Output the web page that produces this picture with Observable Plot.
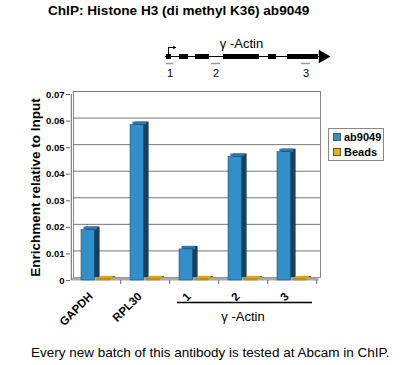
<!DOCTYPE html>
<html><head><meta charset="utf-8">
<script src="https://cdn.jsdelivr.net/npm/d3@7"></script>
<script src="https://cdn.jsdelivr.net/npm/@observablehq/plot@0.6"></script>
<style>
body{margin:0;background:#fff;font-family:"Liberation Sans",Arial,sans-serif;}
#wrap{position:relative;width:400px;height:365px;overflow:hidden;background:#fff;}
#title{position:absolute;left:48px;top:3px;font-size:13.6px;line-height:16px;font-weight:bold;white-space:nowrap;color:#000;}
#gene{position:absolute;left:0;top:26px;}
#chart{position:absolute;left:0;top:84px;}
#legend{position:absolute;left:328px;top:128px;width:54px;height:31px;border:1px solid #888;background:#fff;}
#legend .it{position:absolute;left:4px;font-size:11px;font-weight:bold;line-height:13px;white-space:nowrap;}
#legend .sw{display:inline-block;width:6px;height:6px;border:1px solid #555;margin-right:3px;vertical-align:0px;}
#caption{position:absolute;left:31px;top:345px;font-size:13.5px;line-height:16px;white-space:nowrap;color:#000;}
svg{overflow:visible;}
</style></head><body>
<div id="wrap">
<div id="title">ChIP: Histone H3 (di methyl K36) ab9049</div>
<div id="gene"></div>
<div id="chart"></div>
<div id="legend"></div>
<div id="caption">Every new batch of this antibody is tested at Abcam in ChIP.</div>
</div>
<script>
// ---- data ----
const categories = ["GAPDH", "RPL30", "1", "2", "3"];
const ab9049 = [0.019, 0.0585, 0.0117, 0.0465, 0.0483];
const beads = [0.0004, 0.0004, 0.0004, 0.0004, 0.0004];
const seriesNames = ["ab9049", "Beads"];
const yTicks = [0, 0.01, 0.02, 0.03, 0.04, 0.05, 0.06, 0.07];
const yTickLabels = ["0", "0.01", "0.02", "0.03", "0.04", "0.05", "0.06", "0.07"];
const yLabel = "Enrichment relative to Input";
const groupLabel = "γ -Actin";
const groupMembers = ["1", "2", "3"];
// gene diagram (arbitrary gene coordinates)
const geneSpan = [0, 165];
const tss = 3;
const exons = [[1, 6], [14, 23], [30, 44], [58, 94], [103, 111], [122, 153]];
const primers = [[1, 8], [46, 55], [136, 145]];
const primerLabels = ["1", "2", "3"];

const font = "'Liberation Sans', Arial, sans-serif";

// ---- gene diagram ----
const gene = Plot.plot({
  width: 400, height: 60, margin: 0,
  x: {domain: geneSpan, range: [165, 330], axis: null},
  y: {domain: [-30, 30], range: [60, 0], axis: null},
  style: {fontFamily: font, background: "transparent", overflow: "visible"},
  marks: [
    Plot.ruleY([geneSpan], {x1: d => d[0], x2: d => d[1] - 10, y: 0, stroke: "#000", strokeWidth: 1}),
    Plot.ruleY(exons, {x1: d => d[0], x2: d => d[1], y: 0, stroke: "#000", strokeWidth: 5}),
    Plot.dot([geneSpan], {x: d => d[1], y: 0, symbol: "triangle", r: 5, rotate: 90, fill: "#000", stroke: null, dx: -7.8}),
    Plot.ruleX([tss], {x: d => d, y1: 1, y2: 9, stroke: "#000", strokeWidth: 1}),
    Plot.arrow([tss], {x1: d => d, x2: d => d + 7, y1: 9, y2: 9, stroke: "#000", strokeWidth: 1, headLength: 4}),
    Plot.ruleY(primers, {x1: d => d[0], x2: d => d[1], y: -7, stroke: "#999", strokeWidth: 1.5}),
    Plot.text(primers, {x: d => (d[0] + d[1]) / 2, y: -17, text: (d, i) => primerLabels[i], fontSize: 11, fill: "#000"}),
    Plot.text([groupLabel], {x: d => (exons[3][0] + exons[3][1]) / 2, y: 13, text: d => d, fontSize: 13, fill: "#000"})
  ]
});
document.getElementById("gene").appendChild(gene);

// ---- bar chart ----
const rows = categories.map((c, i) => ({cat: c, ab9049: ab9049[i], Beads: beads[i]}));
const plotLeft = 70, plotRight = 317;
const bw = (plotRight - plotLeft) / categories.length;
const looks = {
  ab9049: {front: "#338fca", top: "#2a78ad", side: "#173f5e", il: 10, ir: bw - 24},
  Beads: {front: "#e6b21e", top: "#d8a514", side: "#8a6a0c", il: 26, ir: bw - 39.5}
};
const barMarks = [];
for (const s of seriesNames) {
  const L = looks[s];
  barMarks.push(
    Plot.barY(rows, {x: "cat", y: s, insetLeft: L.il, insetRight: L.ir, dx: 5, dy: -3, fill: L.side}),
    Plot.barY(rows, {x: "cat", y1: s, y2: s, insetTop: -3, insetLeft: L.il, insetRight: L.ir, dx: 2.5, fill: L.top}),
    Plot.barY(rows, {x: "cat", y: s, insetLeft: L.il, insetRight: L.ir, fill: L.front, stroke: L.side, strokeWidth: 0.5})
  );
}

const chart = Plot.plot({
  width: 400, height: 245,
  marginTop: 10, marginBottom: 49, marginLeft: plotLeft, marginRight: 400 - plotRight,
  x: {domain: categories, padding: 0},
  y: {domain: [0, 0.07]},
  style: {fontFamily: font, background: "transparent", overflow: "visible", color: "#000"},
  marks: [
    Plot.frame({dx: 3, dy: -3, stroke: "#888", fill: "#fff"}),
    Plot.ruleY(yTicks.filter(t => t > 0), {dx: 3, dy: -3, stroke: "#777", strokeWidth: 1}),
    Plot.ruleY([0], {stroke: "#a8a8a8", strokeWidth: 3, dy: -1.5, dx: 1.5}),
    ...barMarks,
    Plot.ruleX([categories[0]], {dx: -bw / 2, stroke: "#666", strokeWidth: 1}),
    Plot.ruleX(categories, {y1: 0, y2: 0, insetBottom: -4, dx: bw / 2, stroke: "#666"}),
    Plot.axisY({ticks: yTicks, tickFormat: (d) => yTickLabels[yTicks.indexOf(d)], tickSize: 4, tickPadding: 2, fontSize: 9.5, fontWeight: "bold", label: null, stroke: "#666"}),
    Plot.axisX({tickRotate: -45, tickSize: 0, tickPadding: 14, fontSize: 11.5, fontWeight: "bold", label: null, dx: -5}),
    Plot.text([yLabel], {frameAnchor: "left", textAnchor: "middle", rotate: -90, dx: -35, fontSize: 13.5, fontWeight: "bold", text: d => d, fill: "#000"}),
    Plot.ruleY([groupLabel], {x1: d => groupMembers[0], x2: d => groupMembers[groupMembers.length - 1], y: 0, dy: 22, insetLeft: 8, insetRight: 4, stroke: "#000", strokeWidth: 1.5}),
    Plot.text([groupLabel], {x: d => groupMembers[1], y: 0, dy: 36, text: d => d, fontSize: 13, fill: "#000"})
  ]
});
document.getElementById("chart").appendChild(chart);

// ---- legend ----
const leg = document.getElementById("legend");
seriesNames.forEach((s, i) => {
  const it = document.createElement("div");
  it.className = "it";
  it.style.top = (2 + i * 15) + "px";
  const sw = document.createElement("span");
  sw.className = "sw";
  sw.style.background = looks[s].front;
  it.appendChild(sw);
  it.appendChild(document.createTextNode(s));
  leg.appendChild(it);
});
</script>
</body></html>
